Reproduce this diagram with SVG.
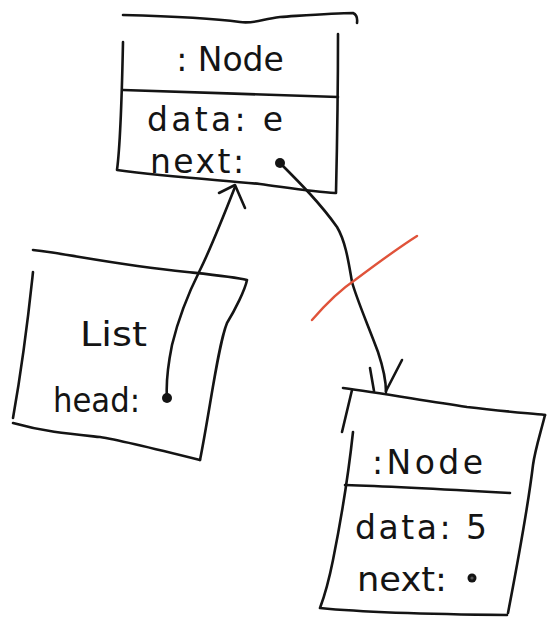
<svg xmlns="http://www.w3.org/2000/svg" width="556" height="625" viewBox="0 0 556 625">
  <style>
    .ink { fill: none; stroke: #141414; stroke-width: 2.6; stroke-linecap: round; stroke-linejoin: round; }
    .hand { font-family: "DejaVu Sans", "Liberation Sans", sans-serif; fill: #141414; font-size: 33px; }
    .dot { fill: #141414; }
  </style>
  <rect width="556" height="625" fill="#ffffff"/>

  <!-- top object box -->
  <g id="node-top">
    <path class="ink" d="M123,15 C160,16 210,18 240,22 C255,24 262,19 280,17 C310,15 335,13 353,13 Q358,15 357,23"/>
    <path class="ink" d="M123,42 C122,90 121,140 117,170 C170,177 220,180 260,184 C290,188 315,192 335,193"/>
    <path class="ink" d="M338,34 C338,90 337,150 336,193"/>
    <path class="ink" d="M123,90 C190,92 270,95 338,97"/>
    <text class="hand" x="230" y="71" text-anchor="middle">: Node</text>
    <text class="hand" x="147" y="131" textLength="136" lengthAdjust="spacing">data: e</text>
    <text class="hand" x="150" y="173" textLength="94" lengthAdjust="spacing">next:</text>
    <circle class="dot" cx="280" cy="163" r="5"/>
  </g>

  <!-- list box -->
  <g id="list">
    <path class="ink" d="M33,250 C70,254 110,264 187,272 C215,275 235,277 247,280 C245,290 235,310 227,323 C218,345 210,410 200,460"/>
    <path class="ink" d="M200,460 C160,450 120,440 100,437 C70,434 45,432 13,423"/>
    <path class="ink" d="M33,272 C30,300 25,350 13,418"/>
    <text class="hand" x="80" y="346" textLength="67" lengthAdjust="spacingAndGlyphs">List</text>
    <text class="hand" x="53" y="412" textLength="87" lengthAdjust="spacingAndGlyphs">head:</text>
    <circle class="dot" cx="167" cy="398" r="5"/>
  </g>

  <!-- lower object box -->
  <g id="node-bottom">
    <path class="ink" d="M343,388 C380,393 420,400 467,407 C500,411 525,413 545,415"/>
    <path class="ink" d="M352,390 L342,432"/>
    <path class="ink" d="M545,415 C540,435 535,450 533,465 C530,490 522,540 508,613"/>
    <path class="ink" d="M353,432 C350,460 345,500 333,560 C328,585 323,600 320,608 C350,611 400,614 507,615"/>
    <path class="ink" d="M345,485 C380,486 440,489 510,493"/>
    <text class="hand" x="372" y="474" textLength="111" lengthAdjust="spacing">:Node</text>
    <text class="hand" x="355" y="539" textLength="132" lengthAdjust="spacing">data: 5</text>
    <text class="hand" x="357" y="591" textLength="90" lengthAdjust="spacingAndGlyphs">next:</text>
    <circle cx="472" cy="578" r="4.5" fill="#141414"/>
    <circle cx="472" cy="578" r="1.6" fill="#555555"/>
  </g>

  <!-- references between objects -->
  <g id="connectors">
    <path class="ink" d="M167,398 C166,385 168,365 172,345 C178,320 190,290 200,270 C210,250 222,220 235,187"/>
    <path class="ink" d="M219,193 L235,185 L245,208"/>
    <path class="ink" d="M280,163 C300,183 320,203 337,227 C346,242 349,265 352,282 C357,300 368,325 378,352 C383,367 386,380 386,392"/>
    <path class="ink" d="M370,368 L374,391 M402,360 L386,391"/>
    <path d="M312,320 C325,305 340,290 355,280 C375,265 395,250 417,236" fill="none" stroke="#e0533a" stroke-width="2.4" stroke-linecap="round"/>
  </g>
</svg>
